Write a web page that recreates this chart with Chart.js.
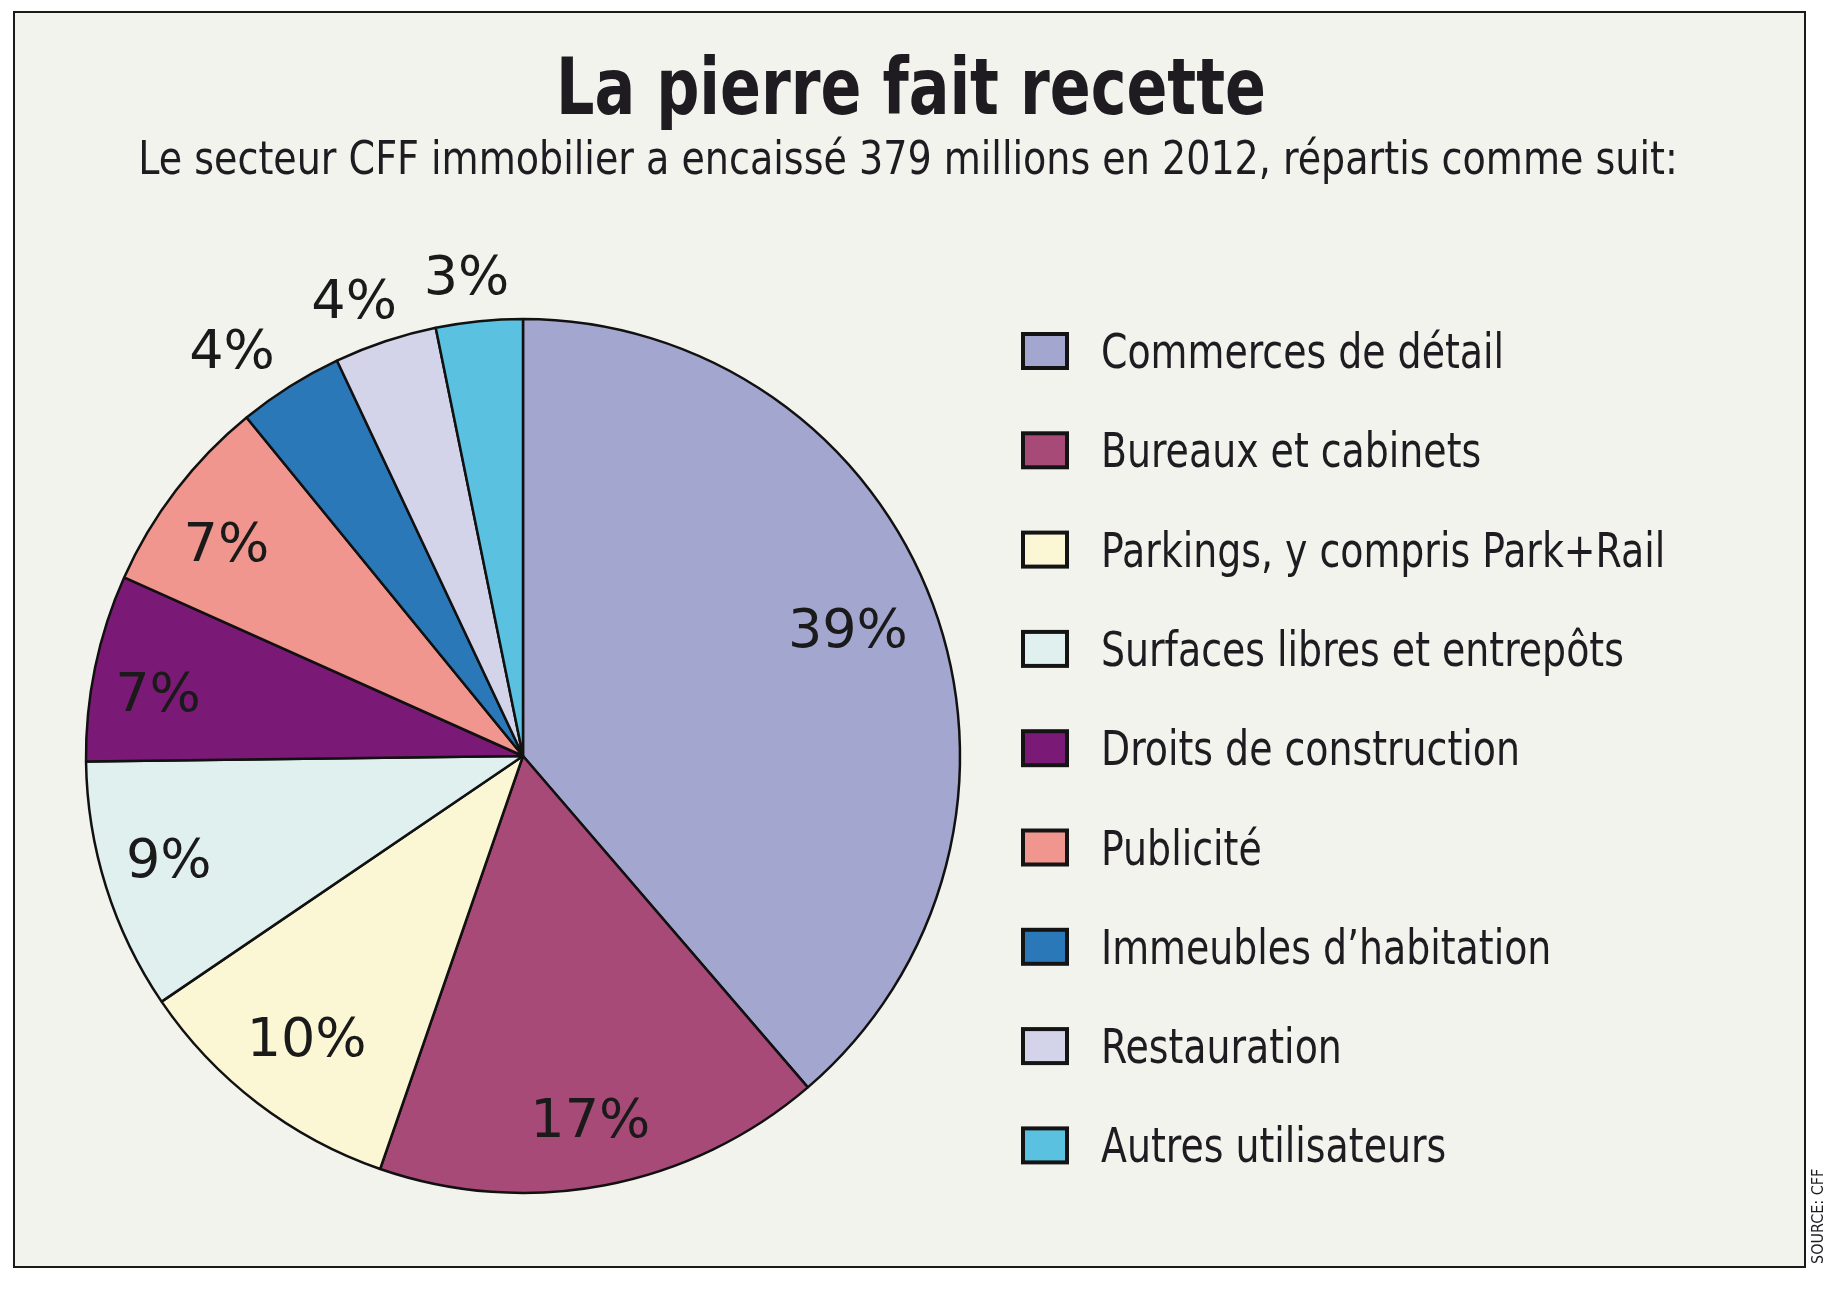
<!DOCTYPE html>
<html lang="fr">
<head>
    <meta charset="UTF-8">
    <title>La pierre fait recette</title>
    <script src="https://cdn.jsdelivr.net/npm/chart.js"></script>
    <style>
        html, body { margin: 0; padding: 0; background: #ffffff; }
        #pie { display: block; }
    </style>
</head>
<body>
<canvas id="pie" width="1842" height="1296"></canvas>
<script>
    // Slice categories, in clockwise order starting from 12 o'clock
    var categories = [
        'Commerces de détail',
        'Bureaux et cabinets',
        'Parkings, y compris Park+Rail',
        'Surfaces libres et entrepôts',
        'Droits de construction',
        'Publicité',
        'Immeubles d\u2019habitation',
        'Restauration',
        'Autres utilisateurs'
    ];
    // Share of the 379 millions (%)
    var shares = [38.7, 16.6, 10.2, 9.3, 6.9, 7.4, 3.9, 3.8, 3.2];
    // Labels as printed on the chart
    var pctLabels = ['39%', '17%', '10%', '9%', '7%', '7%', '4%', '4%', '3%'];

    var sliceColors = ['#a3a6cf', '#a84a77', '#fbf7d5', '#e0f0ef', '#7b1a76',
                       '#f0968e', '#2a78b8', '#d3d3ea', '#5ac1e0'];
    // where each % label sits: fraction of radius, and a small turn (deg) off the slice middle
    var labelRadius = [0.795, 0.854, 0.82, 0.847, 0.846, 0.83, 1.135, 1.105, 1.097];
    var labelTurn = [-0.4, 0.4, -0.3, 0.6, -2.5, -2.3, -3.7, -2.1, -1.0];

    var NARROW = '"DejaVu Sans Condensed", "Liberation Sans Narrow", sans-serif';

    // the original face is narrower than anything installed, so squeeze it a bit
    function squeezedText(ctx, text, x, y, sx) {
        ctx.save();
        ctx.translate(x, y);
        ctx.scale(sx, 1);
        ctx.fillText(text, 0, 0);
        ctx.restore();
    }

    var framePlugin = {
        id: 'frame',
        beforeDraw: function(chart) {
            var ctx = chart.ctx;
            ctx.save();
            ctx.fillStyle = '#ffffff';
            ctx.fillRect(0, 0, chart.width, chart.height);
            ctx.fillStyle = '#f3f3ee';
            ctx.fillRect(14, 12, 1791, 1255);
            ctx.strokeStyle = '#1a1a1a';
            ctx.lineWidth = 2;
            ctx.strokeRect(14, 12, 1791, 1255);

            ctx.fillStyle = '#1e1c20';
            ctx.textAlign = 'center';
            ctx.textBaseline = 'alphabetic';
            ctx.font = 'bold 78px ' + NARROW;
            squeezedText(ctx, 'La pierre fait recette', 911, 114, 0.86);
            ctx.font = '47px ' + NARROW;
            squeezedText(ctx, 'Le secteur CFF immobilier a encaissé 379 millions en 2012, répartis comme suit:', 908, 174, 0.90);

            // source, rotated along the right edge
            ctx.translate(1823, 1264);
            ctx.rotate(-Math.PI / 2);
            ctx.textAlign = 'left';
            ctx.font = '16px ' + NARROW;
            ctx.fillText('SOURCE: CFF', 0, 0);
            ctx.restore();
        },
        afterDatasetsDraw: function(chart) {
            var ctx = chart.ctx;
            var meta = chart.getDatasetMeta(0);
            ctx.save();
            ctx.fillStyle = '#1a1a1a';
            ctx.font = '54px "DejaVu Sans", sans-serif';
            ctx.textAlign = 'center';
            ctx.textBaseline = 'middle';
            meta.data.forEach(function(arc, i) {
                var p = arc.getProps(['x', 'y', 'startAngle', 'endAngle', 'outerRadius']);
                var mid = (p.startAngle + p.endAngle) / 2 + labelTurn[i] * Math.PI / 180;
                var r = p.outerRadius * labelRadius[i];
                ctx.fillText(pctLabels[i], p.x + Math.cos(mid) * r, p.y + Math.sin(mid) * r);
            });

            // legend
            var ds = chart.data.datasets[0];
            ctx.font = '48px ' + NARROW;
            ctx.textAlign = 'left';
            ctx.textBaseline = 'alphabetic';
            chart.data.labels.forEach(function(lab, i) {
                var cy = 351 + i * 99.3;
                ctx.fillStyle = ds.backgroundColor[i];
                ctx.fillRect(1023, cy - 17, 44, 34);
                ctx.lineWidth = 4;
                ctx.strokeStyle = '#141414';
                ctx.strokeRect(1023, cy - 17, 44, 34);
                ctx.fillStyle = '#1e1c20';
                squeezedText(ctx, lab, 1101, cy + 17, 0.877);
            });
            ctx.restore();
        }
    };

    new Chart(document.getElementById('pie'), {
        type: 'pie',
        data: {
            labels: categories,
            datasets: [{
                data: shares,
                backgroundColor: sliceColors,
                borderColor: '#111111',
                borderWidth: 2.5
            }]
        },
        options: {
            responsive: false,
            animation: false,
            devicePixelRatio: 1,
            layout: { padding: { left: 84.75, top: 317.75, right: 880.75, bottom: 101.75 } },
            plugins: {
                legend: { display: false },
                title: { display: false },
                tooltip: { enabled: false }
            }
        },
        plugins: [framePlugin]
    });
</script>
</body>
</html>
